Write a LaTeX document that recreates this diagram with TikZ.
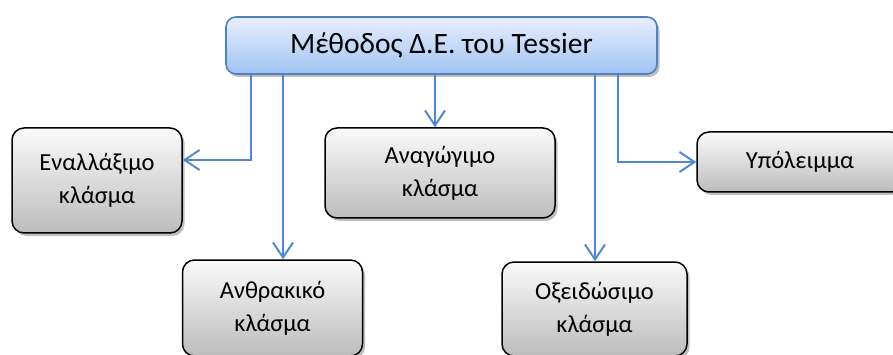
\documentclass[tikz,border=0pt]{standalone}
\usepackage{fontspec}
\setmainfont{Carlito}
\usetikzlibrary{shadows,arrows.meta}
\definecolor{arrblue}{RGB}{79,135,210}
\definecolor{topborder}{RGB}{79,129,189}
\definecolor{toptop}{RGB}{232,240,253}
\definecolor{topbot}{RGB}{160,194,242}
\definecolor{graytop}{RGB}{250,250,250}
\definecolor{graybot}{RGB}{188,188,188}
\tikzset{
  topbox/.style={draw=topborder, line width=1.6pt, rounded corners=10pt, top color=toptop, bottom color=topbot,
    drop shadow={shadow xshift=2.5pt, shadow yshift=-3pt, opacity=0.5},
    font=\fontsize{29.5}{33}\selectfont, align=center, inner sep=0pt},
  leaf/.style={draw=black, line width=1.5pt, rounded corners=12pt, top color=graytop, bottom color=graybot,
    drop shadow={shadow xshift=2.5pt, shadow yshift=-3pt, opacity=0.5},
    font=\fontsize{24.5}{33}\selectfont, align=center, inner sep=0pt},
  arr/.style={draw=arrblue, line width=2pt, -{Straight Barb[length=15pt,width=20pt,line width=2pt]}}
}
\begin{document}
\begin{tikzpicture}[x=1pt,y=-1pt]
\useasboundingbox (0,0) rectangle (893,355);
\clip (0,0) rectangle (893,355);
\node[topbox, minimum width=431pt, minimum height=57pt] (top) at (441.5,45.5) {Μέθοδος Δ.Ε. του Tessier};
\node[leaf, minimum width=170pt, minimum height=105pt] (e1) at (97,180.5) {Εναλλάξιμο\\κλάσμα};
\node[leaf, minimum width=180pt, minimum height=96pt] (an) at (272.5,308) {Ανθρακικό\\κλάσμα};
\node[leaf, minimum width=230pt, minimum height=90pt] (ag) at (440,173) {Αναγώγιμο\\κλάσμα};
\node[leaf, minimum width=185pt, minimum height=94pt] (ox) at (594.5,309) {Οξειδώσιμο\\κλάσμα};
\node[leaf, minimum width=206pt, minimum height=60pt] (yp) at (800,162) {Υπόλειμμα};
\coordinate (b1) at (251,160);
\coordinate (b2) at (283,0);
\coordinate (b3) at (435,0);
\coordinate (b4) at (595,0);
\coordinate (b5) at (618,162);
\draw[arr] (top.south -| b1) -- (b1) -- (e1.east |- b1);
\draw[arr] (top.south -| b2) -- (an.north -| b2);
\draw[arr] (top.south -| b3) -- (ag.north -| b3);
\draw[arr] (top.south -| b4) -- (ox.north -| b4);
\draw[arr] (top.south -| b5) -- (b5) -- (yp.west);
\end{tikzpicture}
\end{document}
